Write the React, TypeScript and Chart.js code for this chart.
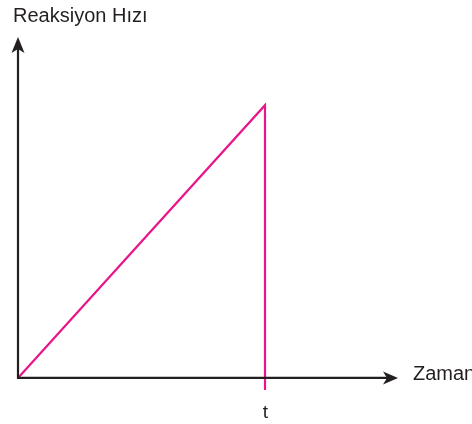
import React, { useEffect, useRef } from "react";
import { Chart, registerables } from "chart.js";

Chart.register(...registerables);

const times = [0, 6.5, 6.5];
const rates = [0, 8, -0.35];
const tickValues = [6.5];
const tickLabels = ["t"];
const yAxisTitle = "Reaksiyon Hızı";
const xAxisTitle = "Zaman";

const AXIS = "#231f20";
const MAGENTA = "#e8168a";
const FONT = '"Liberation Sans", Arial, sans-serif';

const axesPlugin = {
  id: "axesArrows",
  afterDatasetsDraw(chart: any) {
    const ctx = chart.ctx;
    const xs = chart.scales.x;
    const ys = chart.scales.y;
    const x0 = xs.getPixelForValue(0);
    const y0 = ys.getPixelForValue(0);
    const xEnd = xs.getPixelForValue(10);
    const yEnd = ys.getPixelForValue(10);
    ctx.save();
    ctx.strokeStyle = AXIS;
    ctx.fillStyle = AXIS;
    ctx.lineWidth = 2.2;
    // x axis
    ctx.beginPath();
    ctx.moveTo(x0 - 1, y0);
    ctx.lineTo(xEnd - 10, y0);
    ctx.stroke();
    ctx.beginPath();
    ctx.moveTo(xEnd, y0);
    ctx.lineTo(xEnd - 15, y0 - 6.5);
    ctx.lineTo(xEnd - 11, y0);
    ctx.lineTo(xEnd - 15, y0 + 6.5);
    ctx.closePath();
    ctx.fill();
    // y axis
    ctx.beginPath();
    ctx.moveTo(x0, y0 + 1);
    ctx.lineTo(x0, yEnd + 10);
    ctx.stroke();
    ctx.beginPath();
    ctx.moveTo(x0, yEnd);
    ctx.lineTo(x0 - 6.5, yEnd + 16);
    ctx.lineTo(x0, yEnd + 12);
    ctx.lineTo(x0 + 6.5, yEnd + 16);
    ctx.closePath();
    ctx.fill();

    ctx.fillStyle = "#231f20";
    ctx.textBaseline = "alphabetic";
    ctx.textAlign = "left";
    ctx.font = "20px " + FONT;
    ctx.fillText(xAxisTitle, xEnd + 15, y0 + 2);
    ctx.fillText(yAxisTitle, x0 - 5, 22);
    ctx.textAlign = "center";
    ctx.font = "19px " + FONT;
    tickValues.forEach((v, i) => {
      ctx.fillText(tickLabels[i], xs.getPixelForValue(v) + 0.5, 418);
    });
    ctx.restore();
  },
};

export default function App() {
  const ref = useRef<HTMLCanvasElement | null>(null);
  useEffect(() => {
    if (!ref.current) return;
    const chart = new Chart(ref.current, {
      type: "line",
      data: {
        datasets: [
          {
            data: times.map((t, i) => ({ x: t, y: rates[i] })),
            borderColor: MAGENTA,
            borderWidth: 2.2,
            pointRadius: 0,
            tension: 0,
            fill: false,
            clip: false as any,
          },
        ],
      },
      options: {
        animation: false,
        responsive: true,
        maintainAspectRatio: false,
        layout: { padding: { left: 18, right: 74, top: 37, bottom: 32.4 } },
        plugins: { legend: { display: false }, tooltip: { enabled: false } },
        scales: {
          x: { type: "linear", min: 0, max: 10, display: false },
          y: { type: "linear", min: -0.4, max: 10, display: false },
        },
      },
      plugins: [axesPlugin],
    });
    return () => chart.destroy();
  }, []);
  return (
    <div style={{ position: "fixed", left: 0, top: 0, width: 472, height: 424, background: "#fff" }}>
      <canvas ref={ref} />
    </div>
  );
}
